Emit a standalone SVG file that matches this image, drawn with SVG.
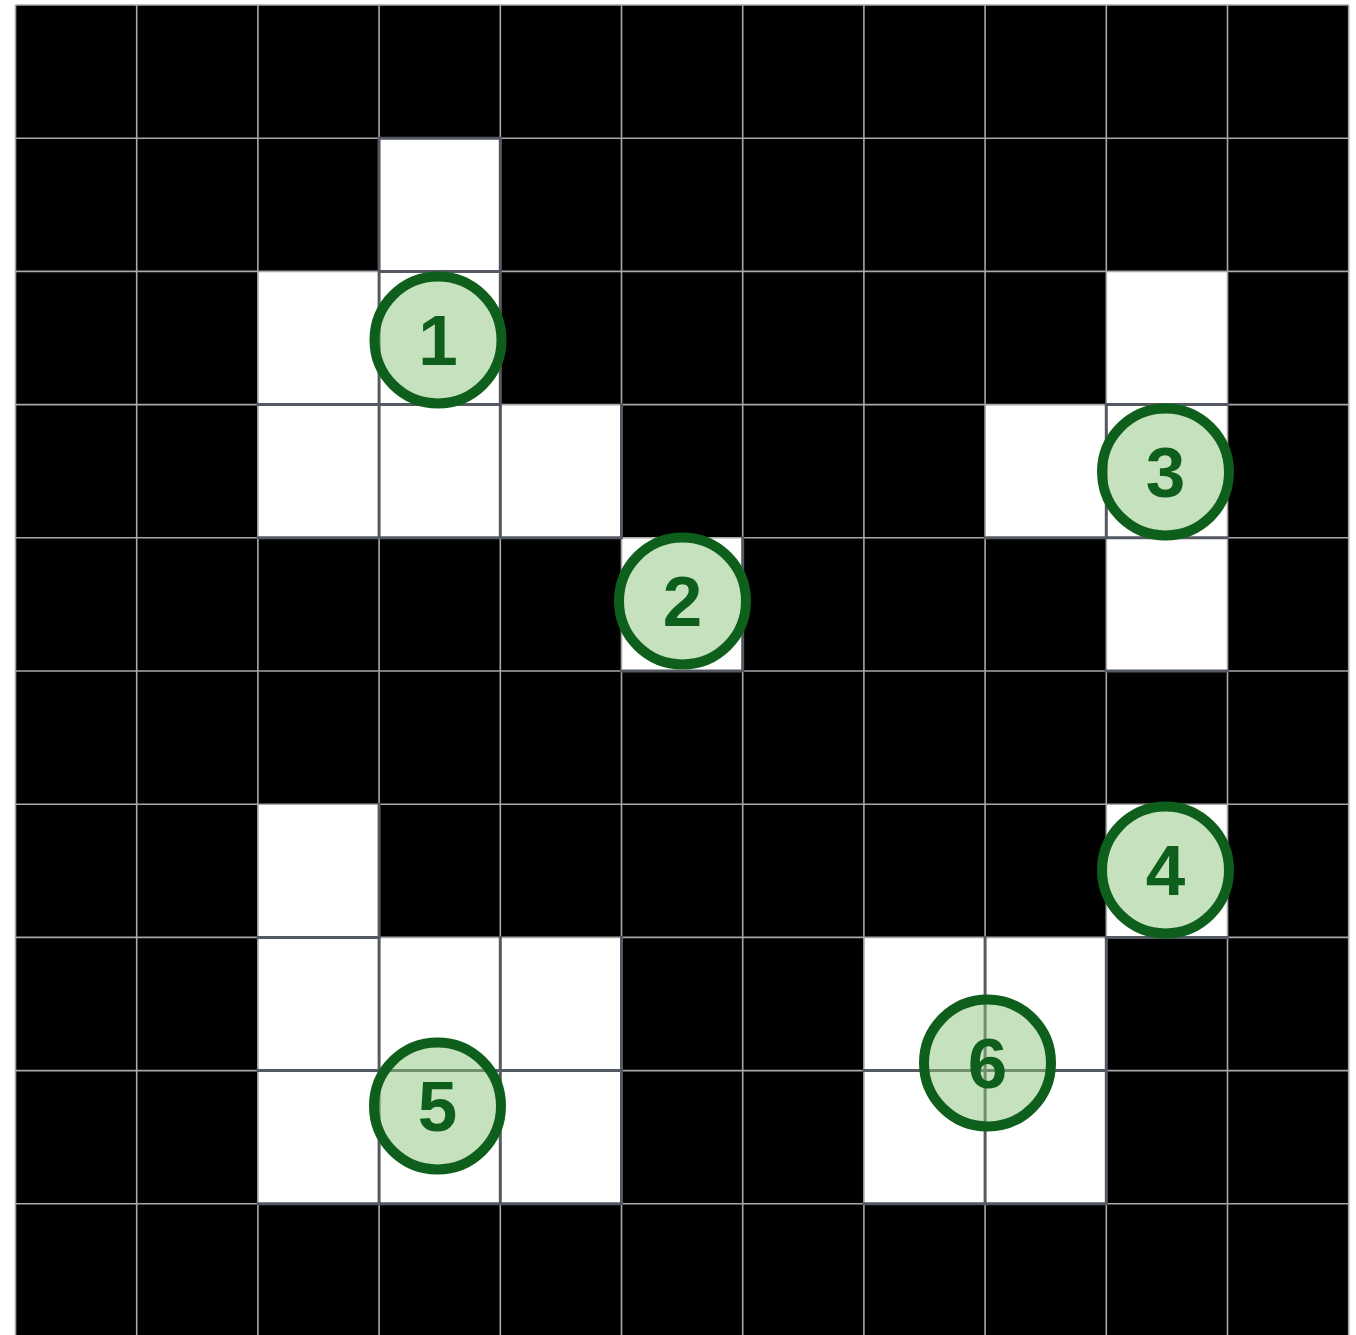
<svg xmlns="http://www.w3.org/2000/svg" width="1356" height="1335" viewBox="0 0 1356 1335">
<style>
.w{fill:#ffffff}
.lg{stroke:#a8a8a8;stroke-width:1.6;fill:none}
.dk{stroke:#555a62;stroke-width:3;fill:none;stroke-linecap:square}
.mk circle{fill:#8cc47c;fill-opacity:0.5;stroke:#0e5f1b;stroke-width:10}
.mk text{font-family:"Liberation Sans",Arial,sans-serif;font-weight:bold;font-size:71px;fill:#0e5f1b;text-anchor:middle}
</style>
<rect x="0" y="0" width="1356" height="1335" fill="#ffffff"/>
<g id="grid">
<rect x="15.5" y="5" width="1333.2" height="1332" fill="#000000"/>
<g id="white-cells">
<rect class="w" x="379.1" y="138.2" width="121.2" height="133.2"/>
<rect class="w" x="257.9" y="271.4" width="121.2" height="133.2"/>
<rect class="w" x="379.1" y="271.4" width="121.2" height="133.2"/>
<rect class="w" x="1106.3" y="271.4" width="121.2" height="133.2"/>
<rect class="w" x="257.9" y="404.6" width="363.6" height="133.2"/>
<rect class="w" x="985.1" y="404.6" width="242.4" height="133.2"/>
<rect class="w" x="621.5" y="537.8" width="121.2" height="133.2"/>
<rect class="w" x="1106.3" y="537.8" width="121.2" height="133.2"/>
<rect class="w" x="257.9" y="804.2" width="121.2" height="133.2"/>
<rect class="w" x="1106.3" y="804.2" width="121.2" height="133.2"/>
<rect class="w" x="257.9" y="937.4" width="363.6" height="266.4"/>
<rect class="w" x="863.9" y="937.4" width="242.4" height="266.4"/>
</g>
<g id="light-lines" class="lg">
<path d="M15.5 5V1337M136.7 5V1337M257.9 5V1337M379.1 5V1337M500.3 5V1337M621.5 5V1337M742.7 5V1337M863.9 5V1337M985.1 5V1337M1106.3 5V1337M1227.5 5V1337M1348.7 5V1337"/>
<path d="M15.5 5H1348.7M15.5 138.2H1348.7M15.5 271.4H1348.7M15.5 404.6H1348.7M15.5 537.8H1348.7M15.5 671H1348.7M15.5 804.2H1348.7M15.5 937.4H1348.7M15.5 1070.6H1348.7M15.5 1203.8H1348.7"/>
</g>
<g id="dark-lines" class="dk">
<path d="M379.1 138.2H500.3V404.6H257.9M379.1 138.2V404.6M379.1 271.4H500.3"/>
<path d="M1106.3 404.6H1227.5"/>
<path d="M379.1 404.6V537.8M500.3 404.6V537.8M621.5 404.6V537.8M257.9 537.8H621.5"/>
<path d="M1106.3 404.6V537.8M985.1 537.8H1227.5"/>
<path d="M742.7 537.8V671M621.5 671H742.7"/>
<path d="M1106.3 671H1227.5"/>
<path d="M379.1 804.2V937.4M257.9 937.4H379.1"/>
<path d="M1106.3 937.4H1227.5"/>
<path d="M379.1 937.4V1203.8M500.3 937.4V1203.8M621.5 937.4V1203.8M257.9 1070.6H621.5M257.9 1203.8H621.5"/>
<path d="M985.1 937.4V1203.8M1106.3 937.4V1203.8M863.9 1070.6H1106.3M863.9 1203.8H1106.3"/>
</g>
</g>
<g id="marker-1" class="mk"><circle cx="438" cy="340" r="63.5"/><text x="438" y="365">1</text></g>
<g id="marker-2" class="mk"><circle cx="682.5" cy="601" r="63.5"/><text x="682.5" y="626">2</text></g>
<g id="marker-3" class="mk"><circle cx="1165.5" cy="472" r="63.5"/><text x="1165.5" y="497">3</text></g>
<g id="marker-4" class="mk"><circle cx="1165.5" cy="870" r="63.5"/><text x="1165.5" y="895">4</text></g>
<g id="marker-5" class="mk"><circle cx="437.5" cy="1106" r="63.5"/><text x="437.5" y="1131">5</text></g>
<g id="marker-6" class="mk"><circle cx="987.5" cy="1063" r="63.5"/><text x="987.5" y="1088">6</text></g>
</svg>
